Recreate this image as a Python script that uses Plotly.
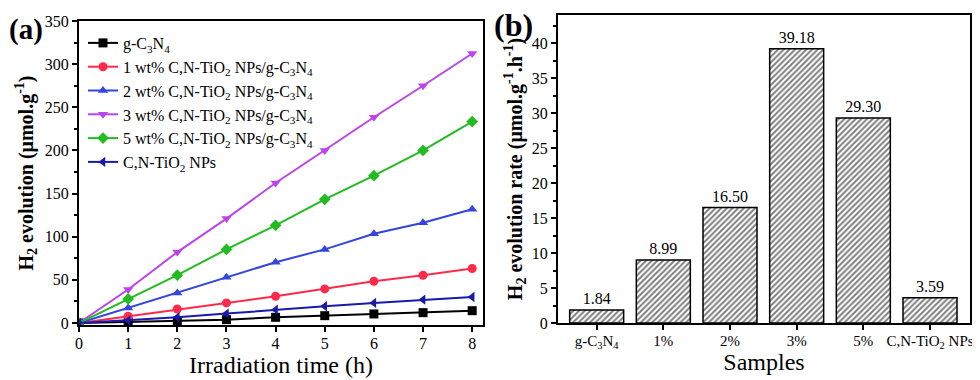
import plotly.graph_objects as go

# --- data (a): H2 evolution vs time ---
hours = [0, 1, 2, 3, 4, 5, 6, 7, 8]
g_c3n4 = [0, 1.2, 2.0, 3.9, 6.6, 8.5, 10.5, 12.0, 14.3]
wt1 = [0, 7.8, 16.3, 23.3, 31.0, 39.5, 48.4, 55.4, 63.2]
wt2 = [0, 17.4, 34.9, 53.1, 70.5, 85.3, 103.5, 116.3, 131.8]
wt3 = [0, 38.8, 82.2, 121.0, 162.3, 200.0, 238.5, 275.0, 312.3]
wt5 = [0, 27.9, 55.4, 85.3, 113.2, 143.4, 170.8, 200.0, 233.5]
cn_tio2 = [0, 3.0, 6.6, 10.9, 15.5, 19.4, 23.3, 27.1, 30.2]

series_names = [
    "g-C<sub>3</sub>N<sub>4</sub>",
    "1 wt% C,N-TiO<sub>2</sub> NPs/g-C<sub>3</sub>N<sub>4</sub>",
    "2 wt% C,N-TiO<sub>2</sub> NPs/g-C<sub>3</sub>N<sub>4</sub>",
    "3 wt% C,N-TiO<sub>2</sub> NPs/g-C<sub>3</sub>N<sub>4</sub>",
    "5 wt% C,N-TiO<sub>2</sub> NPs/g-C<sub>3</sub>N<sub>4</sub>",
    "C,N-TiO<sub>2</sub> NPs",
]

# --- data (b): evolution rate ---
samples = ["g-C<sub>3</sub>N<sub>4</sub>", "1%", "2%", "3%", "5%", "C,N-TiO<sub>2</sub> NPs"]
rates = [1.84, 8.99, 16.50, 39.18, 29.30, 3.59]

colors = ["#000000", "#FF2A4A", "#3344E0", "#BB44EE", "#22BB22", "#1A1AA8"]
symbols = ["square", "circle", "triangle-up", "triangle-down", "diamond", "triangle-left"]

FONT = "'Liberation Serif', 'Times New Roman', Times, serif"

# page has an 8px body margin, so the figure is drawn a bit smaller
W, H, OFF = 972, 372, 8


def px(x):
    return (x - OFF) / W


def py(y):
    return 1 - (y - OFF) / H


fig = go.Figure()

for ys, name, c, s in zip([g_c3n4, wt1, wt2, wt3, wt5, cn_tio2], series_names, colors, symbols):
    fig.add_trace(go.Scatter(
        x=hours, y=ys, name=name, mode="lines+markers",
        line=dict(color=c, width=2),
        marker=dict(symbol=s, size=9, color=c),
        xaxis="x", yaxis="y",
    ))

fig.add_trace(go.Bar(
    x=samples, y=rates, showlegend=False,
    width=0.81,
    text=[f"{v:.2f}" for v in rates], textposition="outside",
    textfont=dict(family=FONT, size=16, color="black"),
    marker=dict(color="white", line=dict(color="black", width=1.5),
                pattern=dict(shape="/", fgcolor="black", bgcolor="white", size=4, solidity=0.5)),
    cliponaxis=False,
    xaxis="x2", yaxis="y2",
))

axis_common = dict(
    showline=True, linecolor="black", linewidth=2, mirror=True,
    ticks="outside", ticklen=5, tickwidth=1.5, tickcolor="black",
    showgrid=False, zeroline=False, automargin=False,
    tickfont=dict(family=FONT, size=16, color="black"),
)

fig.update_layout(
    width=W, height=H,
    margin=dict(l=0, r=0, t=0, b=0, autoexpand=False),
    paper_bgcolor="white", plot_bgcolor="white",
    font=dict(family=FONT, color="black"),
    bargap=0.19,
    xaxis=dict(domain=[px(79), px(483)], range=[0, 8.22], dtick=1, anchor="y",
               ticklabelstandoff=-2,
               title=dict(text="Irradiation time (h)", font=dict(size=24), standoff=0),
               **axis_common),
    yaxis=dict(domain=[py(325), py(21)], range=[-2.3, 350], dtick=50, anchor="x",
               minor=dict(dtick=25, ticks="outside", ticklen=3, tickwidth=1.5, tickcolor="black"),
               title=dict(text="<b>H<sub>2</sub> evolution (μmol.g<sup>-1</sup>)</b>",
                          font=dict(size=20), standoff=6),
               **axis_common),
    xaxis2=dict(domain=[px(558), px(970)], range=[-0.58, 5.6], anchor="y2",
                ticklabelstandoff=-2,
                title=dict(text="Samples", font=dict(size=24), standoff=0),
                **{**axis_common, "tickfont": dict(family=FONT, size=15, color="black")}),
    yaxis2=dict(domain=[py(323), py(15)], range=[0, 44], dtick=5, anchor="x2",
                minor=dict(dtick=2.5, ticks="outside", ticklen=3, tickwidth=1.5, tickcolor="black"),
                title=dict(text="<b>H<sub>2</sub> evolution rate (μmol.g<sup>-1</sup>.h<sup>-1</sup>)</b>",
                           font=dict(size=20), standoff=4),
                **axis_common),
    legend=dict(x=px(83), y=py(26), xanchor="left", yanchor="top",
                bgcolor="rgba(0,0,0,0)", font=dict(family=FONT, size=16, color="black"),
                tracegroupgap=0, itemwidth=30),
    annotations=[
        dict(text="<b>(a)</b>", x=0, y=py(12), xref="paper", yref="paper",
             xanchor="left", yanchor="top", showarrow=False, borderpad=0,
             font=dict(family=FONT, size=29)),
        dict(text="<b>(b)</b>", x=px(492), y=1, xref="paper", yref="paper", yshift=3,
             xanchor="left", yanchor="top", showarrow=False, font=dict(family=FONT, size=32)),
    ],
)

fig.write_html("out.html")
